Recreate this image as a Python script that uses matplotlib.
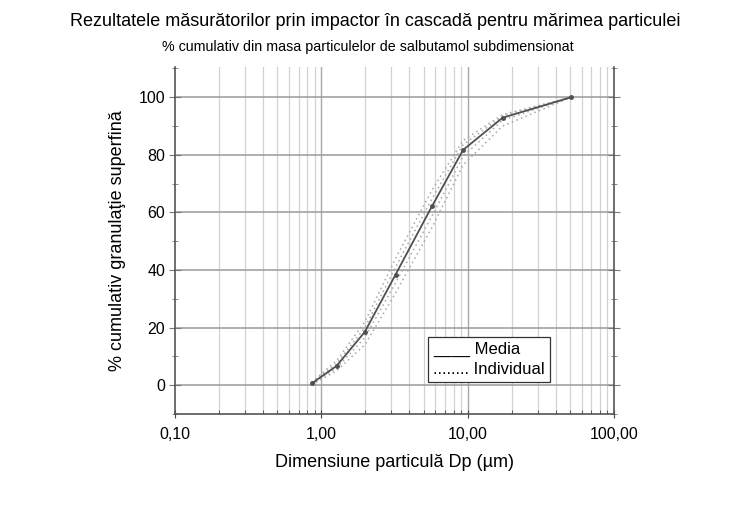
import numpy as np
import matplotlib
matplotlib.use('Agg')
import matplotlib.pyplot as plt
from matplotlib.ticker import FixedLocator, FixedFormatter, LogLocator, NullFormatter
from matplotlib.lines import Line2D

plt.rcParams['font.family'] = ['Liberation Sans', 'DejaVu Sans']

# diametre de taiere (um) si procent cumulativ
dp = [0.86, 1.27, 1.98, 3.21, 5.73, 9.29, 17.3, 50.7]
media = [0.6, 6.7, 18.5, 38.4, 62.4, 81.7, 92.9, 100.0]
individual = [
	[1.0, 8.5, 22.0, 44.0, 68.0, 85.0, 94.0, 100.0],
	[0.8, 7.5, 20.0, 41.0, 65.0, 83.5, 93.5, 100.0],
	[0.4, 6.0, 16.5, 35.5, 59.0, 79.5, 92.0, 100.0],
	[0.2, 5.0, 14.0, 32.0, 55.0, 76.5, 90.0, 100.0],
]
xticks = [0.1, 1, 10, 100]
xlabels = ['0,10', '1,00', '10,00', '100,00']
yticks = [0, 20, 40, 60, 80, 100]

fig = plt.figure(figsize=(7.32, 5.08), dpi=100)
ax = fig.add_axes([0.239, 0.185, 0.6, 0.683])

ax.set_xscale('log')
ax.set_xlim(0.1, 100)
ax.set_ylim(-10, 110.5)

# grila
for v in np.arange(0.2, 1, 0.1).tolist() + np.arange(2, 10).tolist() + np.arange(20, 100, 10).tolist():
	ax.axvline(v, color='#d2d2d2', lw=0.9, zorder=0)
for v in [1, 10]:
	ax.axvline(v, color='#a8a8a8', lw=1.0, zorder=0)
for v in yticks:
	ax.axhline(v, color='#9a9a9a', lw=1.1, zorder=0)

for ind in individual:
	ax.plot(dp, ind, color='#a8a8a8', lw=1.1, ls=(0, (1, 2.2)), zorder=2)
ax.plot(dp, media, color='#505050', lw=1.3, marker='o', ms=2.5, zorder=3)

ax.xaxis.set_major_locator(FixedLocator(xticks))
ax.xaxis.set_major_formatter(FixedFormatter(xlabels))
ax.xaxis.set_minor_locator(LogLocator(base=10, subs=np.arange(2, 10)))
ax.xaxis.set_minor_formatter(NullFormatter())
ax.set_yticks(yticks)
ax.set_yticks([-10, 10, 30, 50, 70, 90, 110], minor=True)

ax.tick_params(axis='x', which='major', direction='inout', length=6, color='#444444', labelsize=11.5, pad=6)
ax.tick_params(axis='x', which='minor', direction='in', length=3, color='#444444')
ax.tick_params(axis='y', which='major', direction='inout', length=8, color='#777777', labelsize=11.5,
	right=True, pad=3)
ax.tick_params(axis='y', which='minor', direction='inout', length=4, color='#777777', right=True)

for s in ['left', 'right', 'bottom']:
	ax.spines[s].set_color('#555555')
	ax.spines[s].set_linewidth(1.2)
ax.spines['top'].set_visible(False)

ax.set_xlabel('Dimensiune particulă Dp (µm)', fontsize=13, labelpad=9)
ax.set_ylabel('% cumulativ granulaţie superfină', fontsize=13, labelpad=9)

fig.text(0.512, 0.957, 'Rezultatele măsurătorilor prin impactor în cascadă pentru mărimea particulei',
	ha='center', va='center', fontsize=13)
fig.text(0.502, 0.907, '% cumulativ din masa particulelor de salbutamol subdimensionat',
	ha='center', va='center', fontsize=10.3)

h = [Line2D([], [], ls='none'), Line2D([], [], ls='none')]
leg = ax.legend(h, ['____ Media', '........ Individual'], loc='lower left',
	bbox_to_anchor=(0.576, 0.092), handlelength=0, handletextpad=0, fontsize=12,
	fancybox=False, framealpha=1, edgecolor='#333333', borderpad=0.3, labelspacing=0.3,
	borderaxespad=0)
leg.get_frame().set_linewidth(0.9)

fig.savefig('out.png', dpi=100)
